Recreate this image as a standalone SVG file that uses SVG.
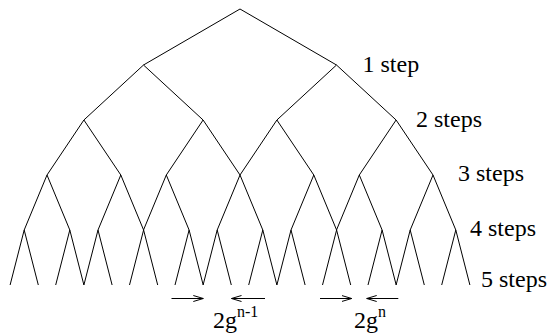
<svg xmlns="http://www.w3.org/2000/svg" width="550" height="333" viewBox="0 0 550 333">
  <defs>
    <style>
      .br { fill: none; stroke: #000; stroke-width: 1; stroke-linejoin: miter; }
      .arr { fill: none; stroke: #000; stroke-width: 1; }
      text { font-family: "Liberation Serif", "Times New Roman", serif; font-size: 24px; fill: #000; }
    </style>
    <marker id="head" markerUnits="userSpaceOnUse" markerWidth="12" markerHeight="8" refX="10" refY="4" orient="auto">
      <path d="M0,1 L10,4 L0,7" fill="none" stroke="#000" stroke-width="1"/>
    </marker>
  </defs>
  <rect width="550" height="333" fill="#fff"/>

  <g id="connectors">
    <g id="level-0">
      <path class="br" d="M143.5,65 L240,9 L336.5,65"/>
    </g>
    <g id="level-1">
      <path class="br" d="M83.9,120 L143.5,65 L203.1,120"/>
      <path class="br" d="M276.9,120 L336.5,65 L396.1,120"/>
    </g>
    <g id="level-2">
      <path class="br" d="M47,175 L83.9,120 L120.8,175"/>
      <path class="br" d="M166.3,175 L203.1,120 L240,175"/>
      <path class="br" d="M240,175 L276.9,120 L313.8,175"/>
      <path class="br" d="M359.3,175 L396.1,120 L433,175"/>
    </g>
    <g id="level-3">
      <path class="br" d="M24.2,230 L47,175 L69.8,230"/>
      <path class="br" d="M98,230 L120.8,175 L143.6,230"/>
      <path class="br" d="M143.5,230 L166.3,175 L189.1,230"/>
      <path class="br" d="M217.2,230 L240,175 L262.8,230"/>
      <path class="br" d="M291,230 L313.8,175 L336.6,230"/>
      <path class="br" d="M336.5,230 L359.3,175 L382.1,230"/>
      <path class="br" d="M410.2,230 L433,175 L455.8,230"/>
    </g>
    <g id="level-4">
      <path class="br" d="M10.1,285 L24.2,230 L38.3,285"/>
      <path class="br" d="M55.7,285 L69.8,230 L83.9,285"/>
      <path class="br" d="M83.9,285 L98,230 L112.1,285"/>
      <path class="br" d="M129.5,285 L143.6,230 L157.7,285"/>
      <path class="br" d="M175,285 L189.1,230 L203.2,285"/>
      <path class="br" d="M203.1,285 L217.2,230 L231.3,285"/>
      <path class="br" d="M248.7,285 L262.8,230 L276.9,285"/>
      <path class="br" d="M276.9,285 L291,230 L305.1,285"/>
      <path class="br" d="M322.5,285 L336.6,230 L350.7,285"/>
      <path class="br" d="M368,285 L382.1,230 L396.2,285"/>
      <path class="br" d="M396.1,285 L410.2,230 L424.3,285"/>
      <path class="br" d="M441.7,285 L455.8,230 L469.9,285"/>
    </g>
    <g id="gap-arrows">
      <line class="arr" x1="171.5" y1="298.5" x2="203.3" y2="298.5" marker-end="url(#head)"/>
      <line class="arr" x1="265" y1="298.5" x2="231.5" y2="298.5" marker-end="url(#head)"/>
      <line class="arr" x1="320" y1="298.5" x2="351.7" y2="298.5" marker-end="url(#head)"/>
      <line class="arr" x1="398.3" y1="298.5" x2="366.7" y2="298.5" marker-end="url(#head)"/>
    </g>
  </g>

  <g id="labels">
    <text x="362.5" y="71.5">1 step</text>
    <text x="416" y="127">2 steps</text>
    <text x="458" y="181">3 steps</text>
    <text x="470" y="236">4 steps</text>
    <text x="481" y="287">5 steps</text>
    <text x="213" y="328">2g<tspan dy="-11" font-size="16">n-1</tspan></text>
    <text x="354" y="328">2g<tspan dy="-11" font-size="16">n</tspan></text>
  </g>
</svg>
